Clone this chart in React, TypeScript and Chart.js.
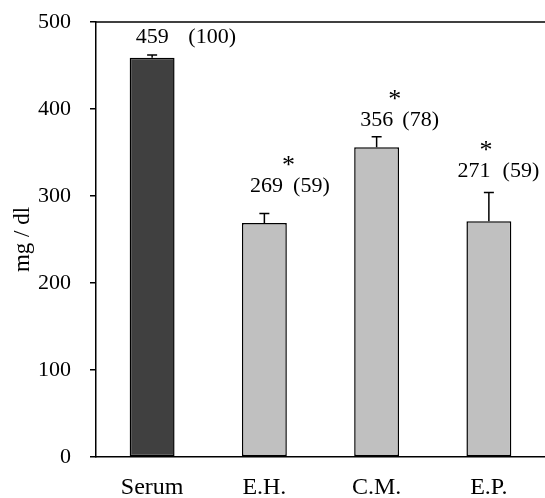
import React, { useEffect, useRef } from "react";
import { Chart, registerables } from "chart.js";

Chart.register(...registerables);

const categories = ["Serum", "E.H.", "C.M.", "E.P."];
const values = [459, 269, 356, 271];
const errors = [3, 11, 12, 33];
const percentLabels = ["(100)", "(59)", "(78)", "(59)"];
const significant = [false, true, true, true];
const barColors = ["#404040", "#c0c0c0", "#c0c0c0", "#c0c0c0"];
const yTicks = [0, 100, 200, 300, 400, 500];

// annotation placement (pixels relative to bar centre / bar top)
const valueLabelDx = [0, 2, 0, -15];
const valueLabelDy = [-22, -38, -28, -51];
const percentDx = [60, 47, 44, 32];
const starDx = [0, 24, 18, -3];

const FONT = '"Liberation Serif", "Times New Roman", serif';

export default function App() {
  const ref = useRef<HTMLCanvasElement | null>(null);

  useEffect(() => {
    if (!ref.current) return;

    const annotate = {
      id: "annotate",
      afterDatasetsDraw(chart: any) {
        const ctx = chart.ctx;
        const meta = chart.getDatasetMeta(0);
        const y = chart.scales.y;
        const area = chart.chartArea;
        ctx.save();
        // top frame line
        ctx.strokeStyle = "#000";
        ctx.lineWidth = 1.5;
        ctx.beginPath();
        ctx.moveTo(area.left, area.top);
        ctx.lineTo(area.right, area.top);
        ctx.stroke();
        // error bars
        meta.data.forEach((bar: any, i: number) => {
          const x = bar.x;
          const yTop = y.getPixelForValue(values[i]);
          const yErr = y.getPixelForValue(values[i] + errors[i]);
          ctx.beginPath();
          ctx.moveTo(x, yTop);
          ctx.lineTo(x, yErr);
          ctx.moveTo(x - 5, yErr);
          ctx.lineTo(x + 5, yErr);
          ctx.stroke();
        });
        // labels
        ctx.fillStyle = "#000";
        ctx.textAlign = "center";
        ctx.textBaseline = "alphabetic";
        meta.data.forEach((bar: any, i: number) => {
          const yTop = y.getPixelForValue(values[i]);
          const cy = yTop + valueLabelDy[i];
          const base = cy + 7;
          ctx.font = `22px ${FONT}`;
          ctx.fillText(String(values[i]), bar.x + valueLabelDx[i], base);
          ctx.fillText(percentLabels[i], bar.x + percentDx[i], base);
          if (significant[i]) {
            ctx.font = `26px ${FONT}`;
            ctx.fillText("*", bar.x + starDx[i], base - 19);
          }
        });
        ctx.restore();
      },
    };

    const chart = new Chart(ref.current, {
      type: "bar",
      data: {
        labels: categories,
        datasets: [
          {
            data: values,
            backgroundColor: barColors,
            borderColor: "#000",
            borderWidth: 1.5,
            borderSkipped: false,
            categoryPercentage: 1,
            barPercentage: 0.4,
          },
        ],
      },
      options: {
        responsive: false,
        animation: false,
        layout: { padding: { top: 22, right: 0, left: 0, bottom: 0 } },
        plugins: {
          legend: { display: false },
          tooltip: { enabled: false },
        },
        scales: {
          x: {
            grid: { display: false, drawTicks: false },
            border: { display: true, color: "#000", width: 1.5 },
            ticks: {
              color: "#000",
              font: { family: FONT, size: 24 },
              padding: 16,
              maxRotation: 0,
            },
            afterFit: (s: any) => {
              s.height = 41;
              s.paddingLeft = 0;
              s.paddingRight = 0;
            },
          },
          y: {
            min: 0,
            max: 500,
            afterBuildTicks: (s: any) => {
              s.ticks = yTicks.map((v) => ({ value: v }));
            },
            grid: {
              drawOnChartArea: false,
              drawTicks: true,
              tickLength: 6,
              color: "#000",
              lineWidth: 1.5,
            },
            border: { display: true, color: "#000", width: 1.5 },
            ticks: {
              color: "#000",
              font: { family: FONT, size: 22 },
              padding: 19,
            },
            title: {
              display: true,
              text: "mg / dl",
              color: "#000",
              font: { family: FONT, size: 23 },
              padding: { top: 9, bottom: 0 },
            },
            afterFit: (s: any) => {
              s.width = 96;
              s.paddingTop = 0;
              s.paddingBottom = 0;
            },
          },
        },
      },
      plugins: [annotate],
    });

    return () => chart.destroy();
  }, []);

  return (
    <div style={{ position: "absolute", left: 0, top: 0, width: 545, height: 498, background: "#fff" }}>
      <canvas ref={ref} width={545} height={498} />
    </div>
  );
}
